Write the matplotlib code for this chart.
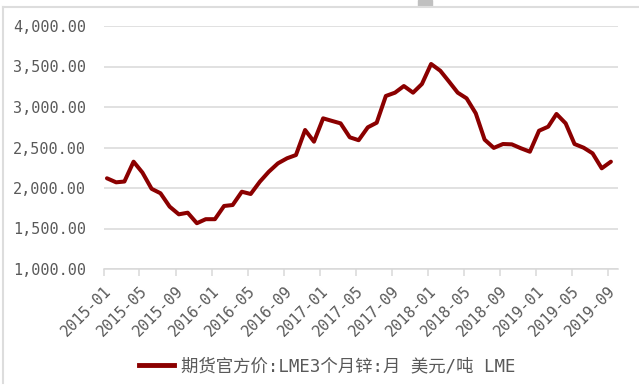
import matplotlib
matplotlib.use("Agg")
import matplotlib.pyplot as plt
import matplotlib.dates as mdates
from matplotlib.lines import Line2D
from matplotlib.patches import Rectangle
from matplotlib.ticker import FuncFormatter, MultipleLocator
import numpy as np
import pandas as pd

# LME 3-month zinc, monthly, USD/t
months = pd.date_range("2015-01-01", "2019-09-01", freq="MS") + pd.Timedelta(days=10)
zinc = [
    2120, 2070, 2080, 2325, 2190, 1990, 1935, 1770, 1675, 1695, 1565, 1615,   # 2015
    1615, 1778, 1790, 1954, 1926, 2078, 2200, 2304, 2367, 2407, 2716, 2572,   # 2016
    2860, 2827, 2798, 2626, 2590, 2749, 2806, 3136, 3177, 3259, 3177, 3284,   # 2017
    3531, 3448, 3321, 3177, 3107, 2922, 2597, 2495, 2543, 2539, 2490, 2448,   # 2018
    2707, 2757, 2914, 2798, 2543, 2497, 2428, 2243, 2325,                     # 2019
]
series_name = "期货官方价:LME3个月锌:月 美元/吨 LME"

line_color = "#8B0000"
grid_color = "#D9D9D9"
text_color = "#595959"
fonts = ["DejaVu Sans Mono", "Noto Sans CJK SC"]

fig = plt.figure(figsize=(6.39, 3.87), dpi=100)
ax = fig.add_axes([104 / 639, 1 - 269 / 387, 514 / 639, 243 / 387])

ax.plot(months, zinc, color=line_color, lw=2.9, solid_joinstyle="round",
        solid_capstyle="round", clip_on=False, zorder=3)

ax.set_ylim(1000, 4000)
ax.yaxis.set_major_locator(MultipleLocator(500))
ax.yaxis.set_major_formatter(FuncFormatter(lambda v, p: f"{v:,.2f}"))
ax.set_xlim(pd.Timestamp("2015-01-01"), pd.Timestamp("2019-10-05"))
ax.xaxis.set_major_locator(mdates.MonthLocator(bymonth=[1, 5, 9]))
ax.xaxis.set_major_formatter(mdates.DateFormatter("%Y-%m"))

ax.grid(axis="y", color=grid_color, lw=1.1)
ax.set_axisbelow(True)
for side in ["top", "right", "left"]:
    ax.spines[side].set_visible(False)
ax.spines["bottom"].set_color(grid_color)
ax.spines["bottom"].set_linewidth(1.1)

ax.tick_params(axis="y", length=0, pad=13, labelcolor=text_color, labelsize=10.9)
ax.tick_params(axis="x", length=5, width=1.1, color=grid_color, pad=5,
               labelcolor=text_color, labelsize=11)
for lbl in ax.get_yticklabels():
    lbl.set_family(fonts)
for lbl in ax.get_xticklabels():
    lbl.set_family(fonts)
    lbl.set_rotation(45)
    lbl.set_ha("right")
    lbl.set_rotation_mode("anchor")

handle = Line2D([], [], color=line_color, lw=3.5)
leg = fig.legend([handle], [series_name], loc="center", bbox_to_anchor=(327 / 639, 1 - 366 / 387),
                 frameon=False, handlelength=2.0, handletextpad=0.4,
                 prop={"family": fonts, "size": 12.5, "weight": "light"})
for t in leg.get_texts():
    t.set_color(text_color)

# outer frame and small tab on top edge
fig.add_artist(Line2D([3 / 639, 1], [1 - 6.5 / 387] * 2, color="#DDDDDD", lw=1.5,
                      transform=fig.transFigure))
fig.add_artist(Line2D([3 / 639] * 2, [1 - 6.5 / 387, 1 - 383 / 387], color="#DDDDDD", lw=1.5,
                      transform=fig.transFigure))
fig.add_artist(Rectangle((418 / 639, 1 - 6 / 387), 14 / 639, 6 / 387, color="#C0C0C0",
                         transform=fig.transFigure))

fig.savefig("out.png", dpi=100, facecolor="white")
